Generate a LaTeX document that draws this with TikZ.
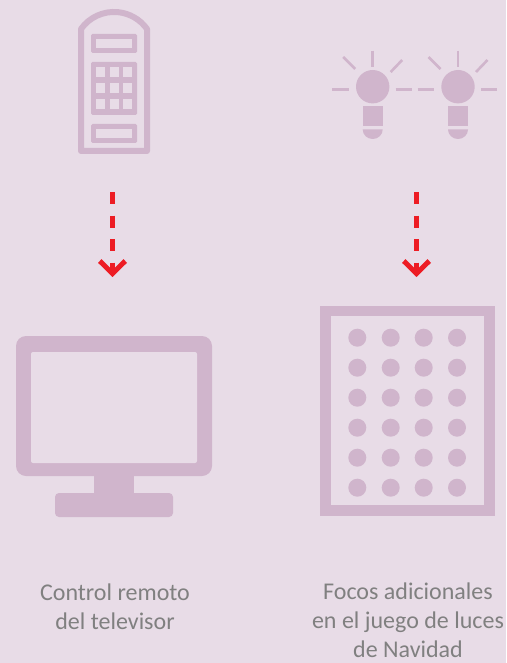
\documentclass[tikz,border=0pt]{standalone}
\usepackage{fontspec}
\setmainfont{Carlito}
\usepackage{xcolor}
\usetikzlibrary{arrows.meta,positioning}
\definecolor{fondo}{RGB}{232,220,231}
\definecolor{lila}{RGB}{208,181,204}
\definecolor{rojo}{RGB}{237,28,36}
\definecolor{gris}{RGB}{128,128,128}

\begin{document}
\begin{tikzpicture}[
  x=1pt,y=-1pt,
  every node/.style={font=\fontsize{24}{29}\selectfont,text=gris,align=center},
  solido/.style={fill=lila,draw=none},
  hueco/.style={fill=fondo,draw=none},
  trazo/.style={draw=lila,line width=6pt,line join=round},
  rayo/.style={draw=lila,line width=2.6pt},
  flecha/.style={draw=rojo,line width=5pt,dash pattern=on 12pt off 11.5pt,-{Straight Barb[length=12.5pt,width=25.5pt,line width=5pt]}},
]
  \fill[fondo] (0,0) rectangle (506,663);
  \useasboundingbox (0,0) rectangle (506,663);

  % control remoto
  \draw[trazo] (81,151) -- (81,29) arc[start angle=144.6,end angle=35.4,x radius=40.5,y radius=-40.5] -- (147,151) -- cycle;
  \fill[solido,rounded corners=1.5pt] (91,34) rectangle (137,53);
  \fill[hueco] (96,39) rectangle (132,48);
  \fill[solido,rounded corners=1.5pt] (91,62) rectangle (137,115);
  \foreach \x in {96,110,123} \foreach \y in {67,83,99}
    \fill[hueco] (\x,\y) rectangle +(8.5,10);
  \fill[solido,rounded corners=1.5pt] (91,124) rectangle (137,143);
  \fill[hueco] (96,129) rectangle (132,138);

  % focos
  \foreach \x in {372.7,458} {
    \fill[solido] (\x,86.7) circle (16.7);
    \fill[solido] (\x-10,106) rectangle (\x+10,126);
    \fill[solido] (\x-10,129.5) -- (\x+10,129.5) arc[start angle=0,end angle=-180,x radius=10,y radius=-9.5] -- cycle;
    \draw[rayo] (\x,50.7) -- (\x,67.3);
    \draw[rayo] (\x-29.5,57) -- (\x-17.5,69);
    \draw[rayo] (\x+29.5,60) -- (\x+18,72);
    \draw[rayo] (\x-40.5,89.3) -- (\x-24,89.3);
    \draw[rayo] (\x+23,89.3) -- (\x+39,89.3);
  }

  % televisor
  \fill[solido,rounded corners=4pt] (55,493) rectangle (173,517);
  \fill[solido] (94,470) rectangle (134,495);
  \fill[solido,rounded corners=10pt] (16,336) rectangle (212,476);
  \fill[hueco,rounded corners=2pt] (31,352) rectangle (197,463);

  % panel de luces
  \fill[solido] (320,306) rectangle (495,515.5);
  \fill[hueco] (331,316) rectangle (484,505);
  \foreach \x in {357.3,390.7,423.7,457} \foreach \y in {337.7,367.7,397.7,427.7,457.7,487.7}
    \fill[solido] (\x,\y) circle (9);

  \coordinate (remoto) at (112.5,192);
  \coordinate (tele) at (112.5,277);
  \coordinate (focos) at (416.5,192);
  \coordinate (panel) at (416.5,277);
  \draw[flecha] (remoto) -- (tele);
  \draw[flecha] (focos) -- (panel);

  \node (texto1) at (115,607) {Control remoto\\del televisor};
  \node (texto2) at (408,620.5) {Focos adicionales\\en el juego de luces\\de Navidad};
\end{tikzpicture}
\end{document}
